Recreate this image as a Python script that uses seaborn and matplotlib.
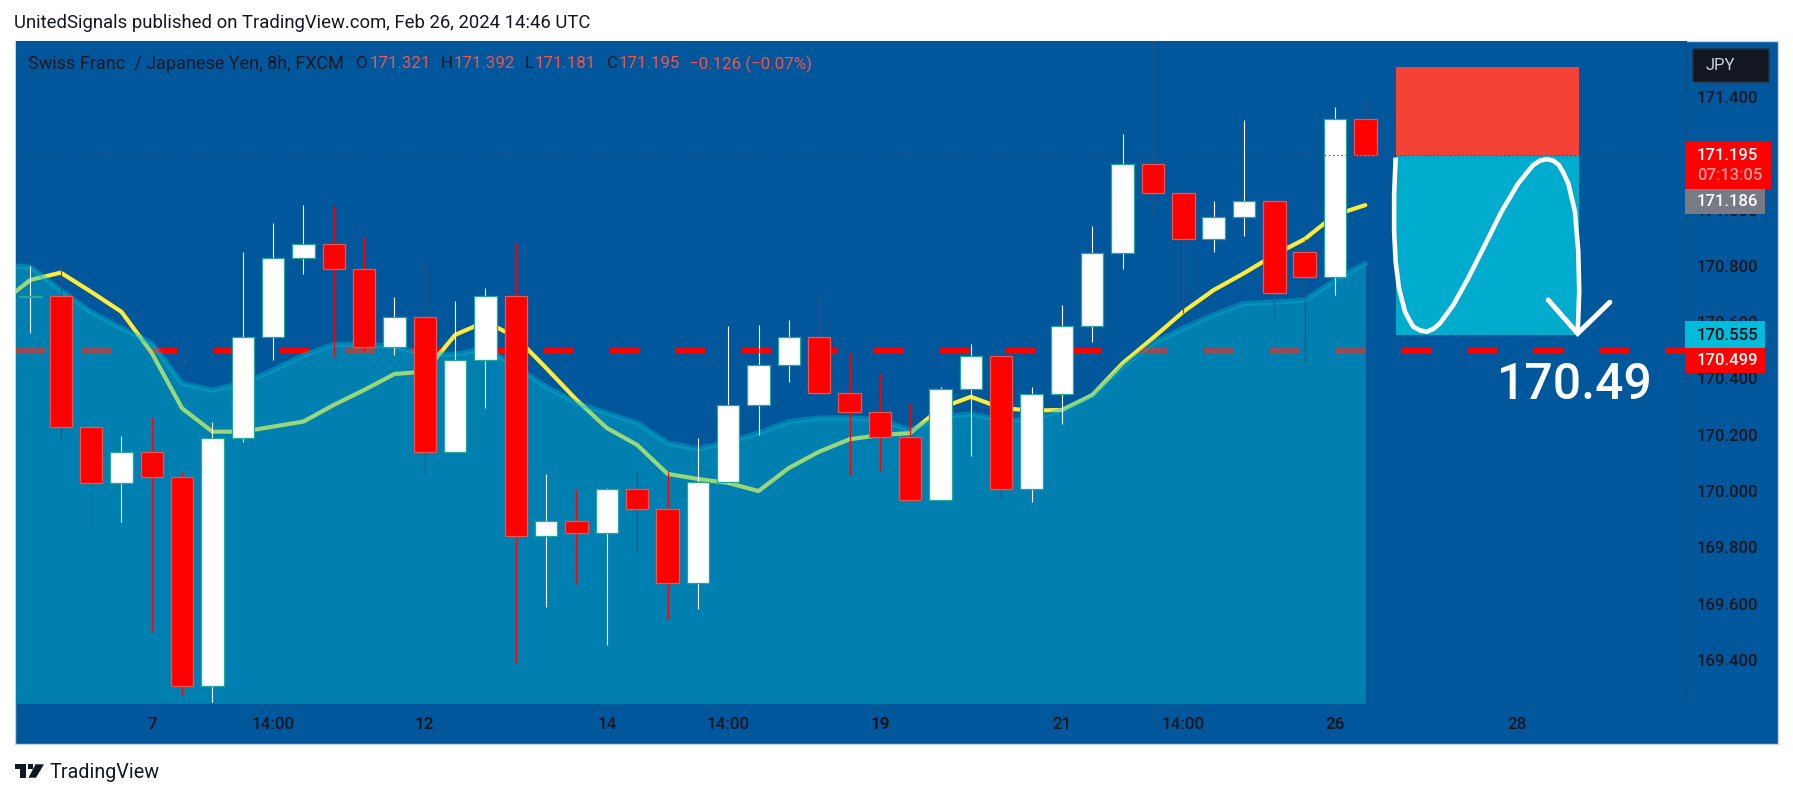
"""
plot.py

CHF/JPY 8h candles with EMA, area line and a short position drawing.
"""

import matplotlib
matplotlib.use("Agg")
import matplotlib.pyplot as plt
from matplotlib.patches import Rectangle, FancyBboxPatch, Polygon
import seaborn as sns

# candles
candle_open = [170.690, 170.694, 170.227, 170.028, 170.140, 170.049, 169.309, 170.188, 170.546, 170.827,
               170.877, 170.788, 170.513, 170.617, 170.138, 170.466, 170.693, 169.842, 169.895, 169.852,
               170.006, 169.935, 169.673, 170.031, 170.305, 170.447, 170.549, 170.350, 170.282, 170.193,
               169.968, 170.362, 170.480, 170.006, 170.344, 170.585, 170.845, 171.161, 171.058, 170.895,
               170.973, 171.029, 170.848, 170.762, 171.321]
candle_close = [170.693, 170.227, 170.028, 170.140, 170.049, 169.309, 170.188, 170.546, 170.827, 170.877,
                170.788, 170.513, 170.617, 170.138, 170.466, 170.693, 169.842, 169.895, 169.852, 170.006,
                169.935, 169.673, 170.031, 170.305, 170.447, 170.549, 170.350, 170.282, 170.193, 169.968,
                170.362, 170.480, 170.006, 170.344, 170.585, 170.845, 171.161, 171.058, 170.895, 170.973,
                171.029, 170.705, 170.762, 171.321, 171.195]
candle_high = [170.800, 170.815, 170.227, 170.196, 170.264, 170.069, 170.247, 170.849, 170.951, 171.016,
               171.013, 170.902, 170.691, 170.821, 170.675, 170.720, 170.880, 170.061, 170.006, 170.010,
               170.075, 170.069, 170.188, 170.586, 170.590, 170.608, 170.703, 170.495, 170.420, 170.312,
               170.371, 170.523, 170.499, 170.371, 170.661, 170.942, 171.269, 171.620, 171.061, 171.030,
               171.318, 171.029, 170.895, 171.363, 171.392]
candle_low = [170.563, 170.182, 169.880, 169.891, 169.501, 169.276, 169.240, 170.175, 170.466, 170.771,
              170.477, 170.499, 170.483, 170.063, 170.138, 170.295, 169.388, 169.589, 169.670, 169.453,
              169.785, 169.546, 169.581, 170.025, 170.199, 170.389, 170.350, 170.057, 170.071, 169.968,
              169.968, 170.126, 169.971, 169.962, 170.238, 170.531, 170.789, 170.978, 170.632, 170.850,
              170.907, 170.620, 170.446, 170.697, 171.181]
dim_wicks = [2, 41]

# lines start one bar before the first visible candle
line_index = list(range(-1, 45))
ema_line = [170.666, 170.750, 170.776, 170.708, 170.637, 170.491, 170.294, 170.211, 170.211, 170.229,
            170.247, 170.306, 170.359, 170.416, 170.424, 170.555, 170.602, 170.547, 170.437, 170.324,
            170.224, 170.164, 170.061, 170.043, 170.029, 170.000, 170.082, 170.140, 170.184, 170.199,
            170.206, 170.295, 170.335, 170.295, 170.286, 170.288, 170.341, 170.454, 170.544, 170.637,
            170.714, 170.774, 170.839, 170.895, 170.981, 171.016]
area_line = [170.803, 170.796, 170.714, 170.637, 170.579, 170.526, 170.383, 170.359, 170.384, 170.430,
             170.483, 170.521, 170.523, 170.513, 170.487, 170.486, 170.507, 170.442, 170.371, 170.313,
             170.277, 170.242, 170.171, 170.150, 170.175, 170.206, 170.247, 170.260, 170.260, 170.253,
             170.217, 170.264, 170.274, 170.253, 170.253, 170.288, 170.341, 170.442, 170.526, 170.579,
             170.626, 170.667, 170.671, 170.679, 170.750, 170.809]

# levels and drawings
target_level = 170.499
last_price = 171.195
stop_level = 171.505
entry_level = 171.191
tp_level = 170.555
position_bars = [45.0, 51.03]

curve_x = [45.00, 44.95, 44.95, 45.00, 45.11, 45.31, 45.42, 45.58, 45.80, 46.02, 46.24, 46.46, 46.90, 47.39, 47.94,
           48.49, 49.04, 49.53, 49.76, 49.98, 50.19, 50.36, 50.52, 50.69, 50.91, 51.02, 51.05, 51.00]
curve_y = [171.185, 171.052, 170.922, 170.815, 170.720, 170.637, 170.614, 170.584, 170.571, 170.566, 170.576,
           170.596, 170.661, 170.756, 170.874, 170.993, 171.093, 171.158, 171.174, 171.179, 171.174, 171.161,
           171.133, 171.093, 170.993, 170.851, 170.708, 170.560]
arrow_x = [50.03, 51.00, 52.06]
arrow_y = [170.679, 170.560, 170.671]

price_ticks = [169.4, 169.6, 169.8, 170.0, 170.2, 170.4, 170.6, 170.8, 171.0, 171.2, 171.4]
time_ticks = [4, 8, 13, 19, 23, 28, 34, 38, 43, 49]
time_labels = ["7", "14:00", "12", "14", "14:00", "19", "21", "14:00", "26", "28"]
bold_labels = ["12", "19", "26"]

W, H = 1793, 798
PANE = "#01579B"
INK = "#131722"
RED = "#FF0000"
SOFT_RED = "#F5524A"
CYAN = "#00BCD4"

sns.set_theme(style="white", font="Roboto", rc={"lines.scale_dashes": False})
fig = plt.figure(figsize=(W / 100, H / 100), dpi=100, facecolor="white")


def fx(x):
    return x / W


def fy(y):
    return 1 - y / H


def px_rect(x0, y0, x1, y1, color, z=5, **kw):
    r = Rectangle((fx(x0), fy(y1)), (x1 - x0) / W, (y1 - y0) / H, transform=fig.transFigure,
                  facecolor=color, edgecolor=kw.pop("edgecolor", "none"), zorder=z, **kw)
    fig.add_artist(r)


def px_text(x, y, s, color=INK, size=12, ha="left", weight="normal"):
    fig.text(fx(x), fy(y), s, color=color, fontsize=size, ha=ha, va="center", fontweight=weight, zorder=6)


px_rect(15, 41, 1778, 744, PANE, z=-1, edgecolor="#C9D3E0", linewidth=1)

ax = fig.add_axes([fx(15.5), fy(703), (1686 - 15.5) / W, (703 - 41) / H], zorder=1)
ax.set_facecolor(PANE)
ax.set_xlim(-0.491, 54.57)
ax.set_ylim(169.247, 171.599)

# dashes sit under the area, the yellow line too
ax.axhline(target_level, color=RED, lw=4.2, dashes=(21.6, 25.9), dash_capstyle="butt", zorder=1)
sns.lineplot(x=line_index, y=ema_line, ax=ax, color="#FFEB3B", linewidth=3.0, estimator=None, sort=False,
             zorder=2, legend=False)
ax.fill_between(line_index, area_line, 169.0, color=CYAN, alpha=0.4, linewidth=0, zorder=3)
sns.lineplot(x=line_index, y=area_line, ax=ax, color=CYAN, alpha=0.4, linewidth=3.6, estimator=None, sort=False,
             zorder=3, legend=False)

# candles
bars = list(range(len(candle_open)))
is_up = [c >= o for o, c in zip(candle_open, candle_close)]
wick_colors = ["white" if u else RED for u in is_up]
for i in dim_wicks:
    wick_colors[i] = "#0A6A9E"
ax.vlines(bars, candle_low, candle_high, colors=wick_colors, linewidth=0.8, zorder=4)
ax.bar(bars, [abs(c - o) for o, c in zip(candle_open, candle_close)],
       bottom=[min(o, c) for o, c in zip(candle_open, candle_close)], width=0.74,
       color=["white" if u else RED for u in is_up],
       edgecolor=["#26A69A" if u else "#EF5350" for u in is_up], linewidth=0.9, zorder=5)

# short position box and the hand drawn path
ax.fill_between(position_bars, entry_level, stop_level, color="#F44336", linewidth=0, zorder=4)
ax.fill_between(position_bars, tp_level, entry_level, color="#00ACCD", linewidth=0, zorder=4)
ax.axhline(last_price, color=RED, lw=0.8, ls=(0, (1, 2)), zorder=7)
ax.plot(curve_x, curve_y, color="white", lw=3.3, solid_joinstyle="round", solid_capstyle="butt", zorder=6)
ax.plot(arrow_x, arrow_y, color="white", lw=3.6, solid_joinstyle="miter", solid_capstyle="round", zorder=6)

# axes
for side in ["top", "left"]:
    ax.spines[side].set_visible(False)
for side in ["right", "bottom"]:
    ax.spines[side].set_color("#0B5088")
    ax.spines[side].set_linewidth(0.8)
ax.yaxis.tick_right()
ax.set_yticks(price_ticks)
ax.set_yticklabels([f"{p:.3f}" for p in price_ticks], color=INK, fontsize=12, ha="left", fontweight="medium")
ax.set_xticks(time_ticks)
ax.set_xticklabels(time_labels, color=INK, fontsize=12.2, fontweight="medium")
for lab in ax.get_xticklabels():
    if lab.get_text() in bold_labels:
        lab.set_fontweight("bold")
ax.tick_params(axis="both", length=0)
ax.tick_params(axis="y", pad=8)
ax.tick_params(axis="x", pad=10)
ax.set_xlabel("")
ax.set_ylabel("")

# header texts
px_text(14.5, 23, "UnitedSignals published on TradingView.com, Feb 26, 2024 14:46 UTC", size=13.3)
px_text(27.5, 64, "Swiss Franc  / Japanese Yen, 8h, FXCM", size=13)
for x, s in [(356, "O"), (441, "H"), (525, "L"), (607, "C")]:
    px_text(x, 64, s, size=12.2)
for x, s in [(370, "171.321"), (453.5, "171.392"), (534.5, "171.181"), (619, "171.195"),
             (689.4, "\u22120.126 (\u22120.07%)")]:
    px_text(x, 64, s, color=SOFT_RED, size=12.2)

px_text(1575, 385, "170.49", color="white", size=36, ha="center", weight="medium")

# price tags on the scale
fig.add_artist(FancyBboxPatch((fx(1693), fy(82)), 76 / W, 33 / H, boxstyle="round,pad=0,rounding_size=0.002",
                              transform=fig.transFigure, facecolor=INK, edgecolor="#2A2E39", lw=1, zorder=5,
                              mutation_aspect=H / W))
px_text(1705.5, 65, "JPY", color="#D1D4DC", size=12)

px_rect(1685, 141, 1771, 189, RED)
px_text(1697, 155, "171.195", color="white", size=12, weight="medium")
px_text(1697, 176, "07:13:05", color="#FF9C9C", size=12, weight="medium")
px_rect(1685, 189, 1765, 214, "#787B86")
px_text(1697, 201, "171.186", color="white", size=12, weight="medium")
px_rect(1685, 321, 1765, 348, "#00BCDA")
px_text(1697, 335, "170.555", color="#0B0E14", size=12, weight="medium")
px_rect(1685, 348, 1765, 373, RED)
px_text(1697, 360.5, "170.499", color="white", size=12, weight="medium")

# logo
fig.add_artist(Polygon([(fx(15), fy(764.3)), (fx(26), fy(764.3)), (fx(26), fy(777.7)), (fx(20), fy(777.7)),
                        (fx(20), fy(768.5)), (fx(15), fy(768.5))], transform=fig.transFigure, color=INK, lw=0))
fig.add_artist(Polygon([(fx(35.5), fy(764.3)), (fx(44), fy(764.3)), (fx(36), fy(777.7)), (fx(28.5), fy(777.7))],
                       transform=fig.transFigure, color=INK, lw=0))
fig.add_artist(Rectangle((fx(28), fy(768.8)), 4.6 / W, 4.6 / H, transform=fig.transFigure, color=INK, lw=0))
px_text(50, 773, "TradingView", size=14.2)

fig.savefig("out.png", dpi=100, facecolor="white")
